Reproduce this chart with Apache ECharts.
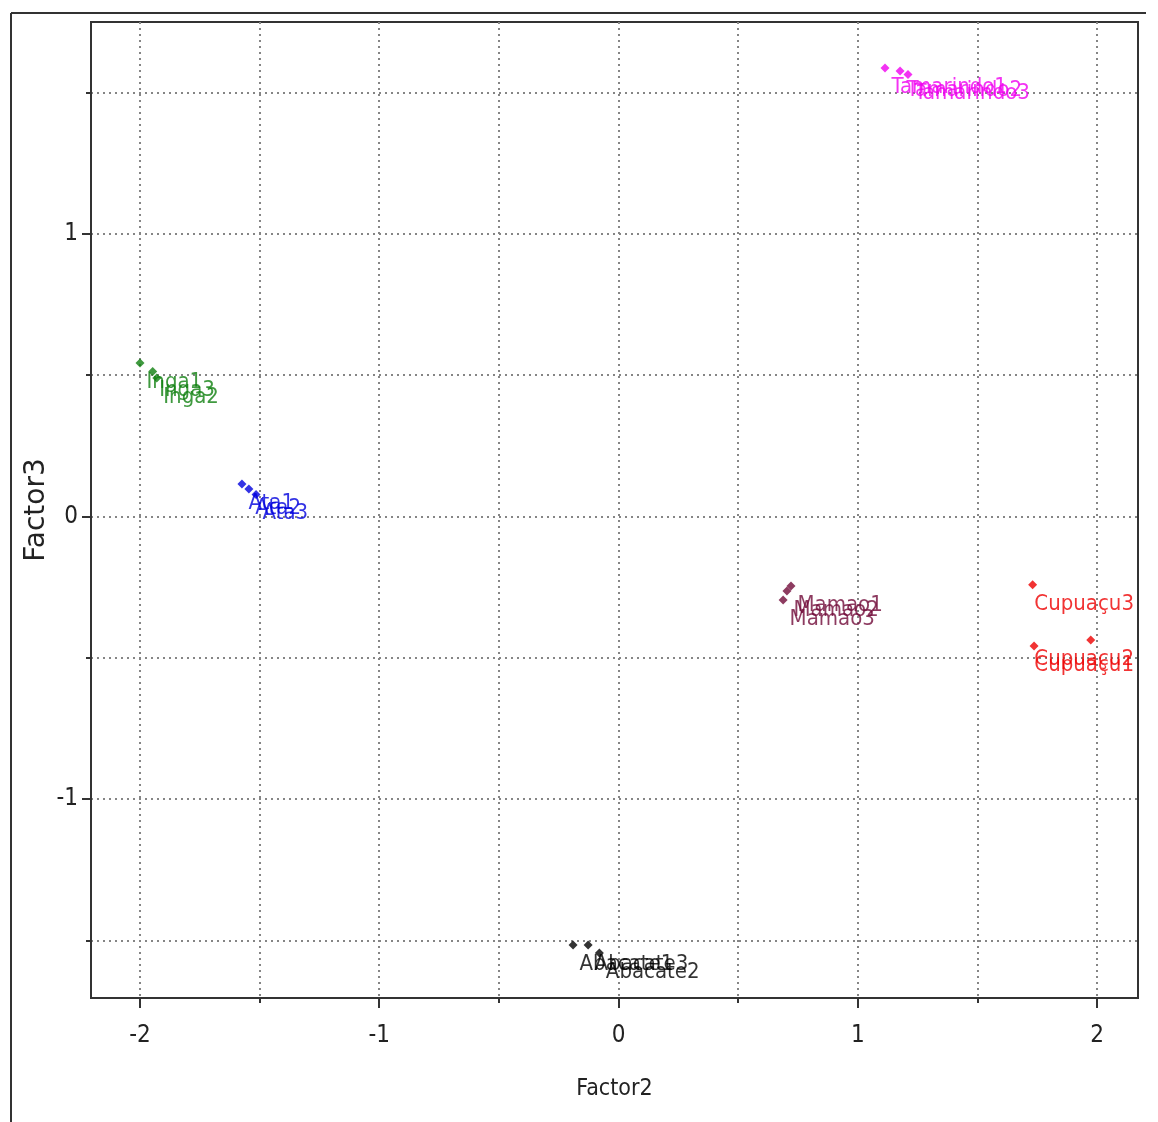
<!DOCTYPE html>
<html><head><meta charset="utf-8">
<script src="https://cdn.jsdelivr.net/npm/echarts@6/dist/echarts.min.js"></script>
<style>html,body{margin:0;padding:0;background:#fff}#c{width:1158px;height:1122px}</style>
</head><body><div id="c"></div>
<script>
// ---- data ----
const xTicks = [-2, -1, 0, 1, 2];
const xHalfTicks = [-2, -1.5, -1, -0.5, 0, 0.5, 1, 1.5, 2];
const yTicks = [-1, 0, 1];
const yHalfTicks = [-1.5, -1, -0.5, 0, 0.5, 1, 1.5];

const tamarindoNames = ['Tamarindo1', 'Tamarindo2', 'Tamarindo3'];
const tamarindoX = [1.114, 1.177, 1.21];
const tamarindoY = [1.588, 1.577, 1.565];

const ingaNames = ['Inga1', 'Inga3', 'Inga2'];
const ingaX = [-2.0, -1.947, -1.93];
const ingaY = [0.543, 0.513, 0.49];

const ataNames = ['Ata1', 'Ata2', 'Ata3'];
const ataX = [-1.574, -1.545, -1.515];
const ataY = [0.115, 0.097, 0.078];

const mamaoNames = ['Mamao1', 'Mamao2', 'Mamao3'];
const mamaoX = [0.721, 0.704, 0.688];
const mamaoY = [-0.246, -0.264, -0.296];

const cupuacuNames = ['Cupuaçu3', 'Cupuaçu1', 'Cupuaçu2'];
const cupuacuX = [1.731, 1.737, 1.974];
const cupuacuY = [-0.242, -0.458, -0.437];

const abacateNames = ['Abacate1', 'Abacate3', 'Abacate2'];
const abacateX = [-0.190, -0.127, -0.080];
const abacateY = [-1.517, -1.517, -1.545];

const X_MIN = -2.2048, X_MAX = 2.1714;
const Y_MIN = -1.7044, Y_MAX = 1.7504;

// ---- chart ----
const NARROW = "'Liberation Sans Narrow','Arial Narrow','DejaVu Sans Condensed',sans-serif";
const groups = [
  {names: tamarindoNames, xs: tamarindoX, ys: tamarindoY, color: '#f000f0'},
  {names: ingaNames, xs: ingaX, ys: ingaY, color: '#0f800f'},
  {names: ataNames, xs: ataX, ys: ataY, color: '#0000dd'},
  {names: mamaoNames, xs: mamaoX, ys: mamaoY, color: '#700a38'},
  {names: cupuacuNames, xs: cupuacuX, ys: cupuacuY, color: '#ee0000'},
  {names: abacateNames, xs: abacateX, ys: abacateY, color: '#000000'}
];
const GRID = {left: 91, top: 22, width: 1047, height: 976};
const RIGHT_LIMIT = GRID.left + GRID.width - 4;

const series = groups.map(g => ({
  type: 'scatter',
  xAxisIndex: 0, yAxisIndex: 0,
  symbol: 'diamond',
  symbolSize: 9,
  itemStyle: {color: g.color},
  label: {
    show: true, position: 'right', distance: 0, formatter: '{b}',
    color: g.color, fontFamily: NARROW, fontSize: 22
  },
  labelLayout: function (p) {
    const r = p.labelRect;
    let dx = 2;
    if (r.x + dx + r.width > RIGHT_LIMIT) dx = RIGHT_LIMIT - r.width - r.x;
    return {dx: dx, dy: 19};
  },
  data: g.names.map((n, i) => ({name: n, value: [g.xs[i], g.ys[i]]}))
}));

const gridLine = {show: true, lineStyle: {type: [2, 4], color: '#858585', width: 2}};
const axisCol = '#333';

const option = {
  animation: false,
  backgroundColor: '#fff',
  grid: Object.assign({show: true, borderColor: axisCol, borderWidth: 2, backgroundColor: 'transparent'}, GRID),
  xAxis: [
    {
      type: 'value', position: 'bottom', min: X_MIN, max: X_MAX,
      axisLine: {show: true, onZero: false, lineStyle: {color: axisCol, width: 2}},
      axisTick: {show: true, customValues: xHalfTicks, length: 5, lineStyle: {color: axisCol, width: 2}},
      axisLabel: {show: false},
      splitLine: gridLine,
      name: 'Factor2', nameLocation: 'middle', nameGap: 80,
      nameTextStyle: {fontFamily: NARROW, fontSize: 23, color: '#222'}
    },
    {
      type: 'value', position: 'bottom', min: X_MIN, max: X_MAX,
      axisLine: {show: false, onZero: false},
      axisTick: {show: true, customValues: xTicks, length: 10, lineStyle: {color: axisCol, width: 2}},
      axisLabel: {show: true, customValues: xTicks, margin: 26, fontFamily: NARROW, fontSize: 24, color: '#222'},
      splitLine: {show: false}
    }
  ],
  yAxis: [
    {
      type: 'value', position: 'left', min: Y_MIN, max: Y_MAX,
      axisLine: {show: true, onZero: false, lineStyle: {color: axisCol, width: 2}},
      axisTick: {show: true, customValues: yHalfTicks, length: 5, lineStyle: {color: axisCol, width: 2}},
      axisLabel: {show: false},
      splitLine: gridLine,
      name: 'Factor3', nameLocation: 'middle', nameGap: 40,
      nameTextStyle: {fontFamily: "'DejaVu Sans',sans-serif", fontSize: 28, color: '#222'}
    },
    {
      type: 'value', position: 'left', min: Y_MIN, max: Y_MAX,
      axisLine: {show: false, onZero: false},
      axisTick: {show: true, customValues: yTicks, length: 9, lineStyle: {color: axisCol, width: 2}},
      axisLabel: {show: true, customValues: yTicks, margin: 13, fontFamily: NARROW, fontSize: 24, color: '#222'},
      splitLine: {show: false}
    }
  ],
  graphic: [
    {type: 'line', silent: true, shape: {x1: 11, y1: 13, x2: 1146, y2: 13}, style: {stroke: '#333', lineWidth: 2}},
    {type: 'line', silent: true, shape: {x1: 11, y1: 13, x2: 11, y2: 1122}, style: {stroke: '#333', lineWidth: 2}}
  ],
  series: series
};

const chart = echarts.init(document.getElementById('c'), null, {renderer: 'canvas'});
chart.setOption(option);
</script>
</body></html>
